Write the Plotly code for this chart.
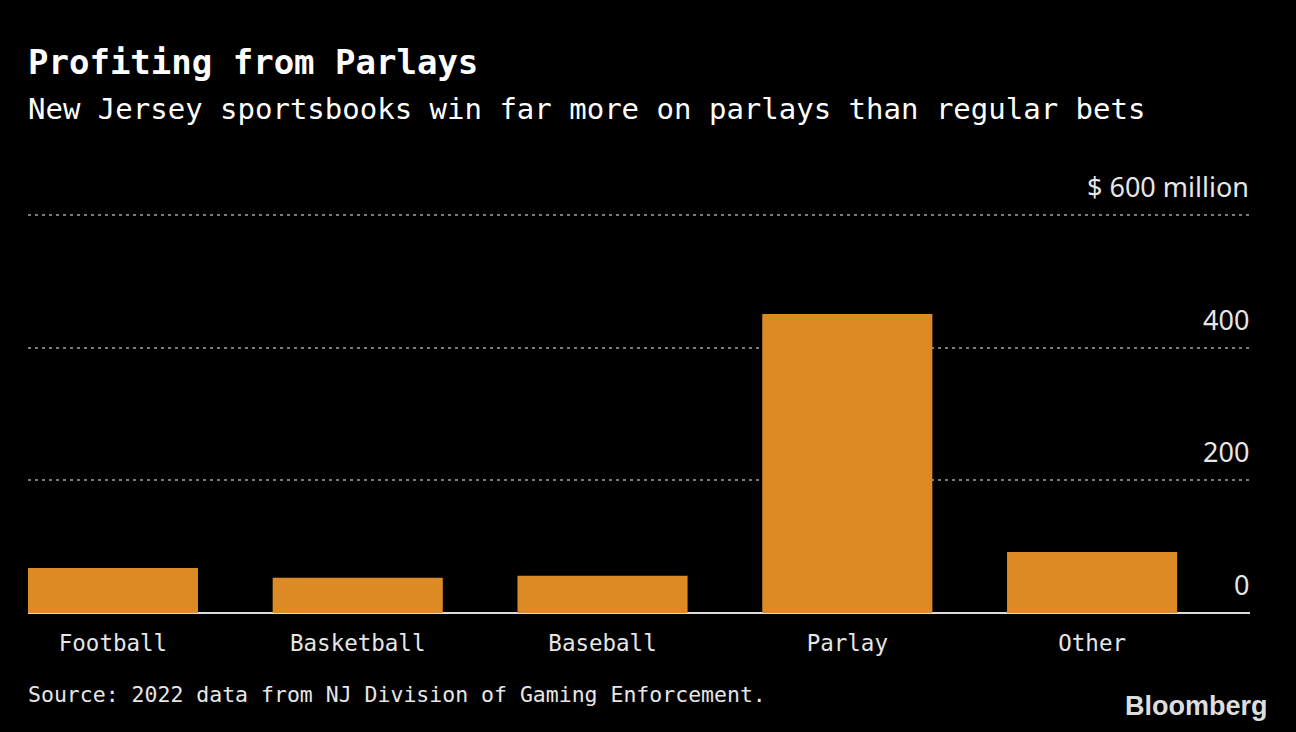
import plotly.graph_objects as go

categories = ["Football", "Basketball", "Baseball", "Parlay", "Other"]
winnings = [68, 53, 56, 451, 92]  # $ million
tick_vals = [0, 200, 400, 600]
tick_text = ["0", "200", "400", "$ 600 million"]

title = "Profiting from Parlays"
subtitle = "New Jersey sportsbooks win far more on parlays than regular bets"
source = "Source: 2022 data from NJ Division of Gaming Enforcement."

BG = "#000000"
BAR = "#DC8A26"
TXT = "#E6E6E6"
MONO = "DejaVu Sans Mono"

fig = go.Figure(
    go.Bar(
        x=categories,
        y=winnings,
        marker=dict(color=BAR, line=dict(width=0)),
        width=0.695,
        hoverinfo="skip",
    )
)

W, H = 1296, 732
YMAX = 680
ml, mr, mb = 28, 46, 119
unit = (613 - 215) / 600.0
mt = int(round(613 - YMAX * unit))
ph = H - mt - mb


def py(px):
    return (H - mb - px) / ph


annotations = [
    dict(
        text="<b>" + title + "</b>",
        xref="paper", yref="paper", x=0, y=py(40),
        xanchor="left", yanchor="top", showarrow=False,
        xshift=-2,
        font=dict(family=MONO, size=34, color="#FFFFFF"),
    ),
    dict(
        text=subtitle,
        xref="paper", yref="paper", x=0, y=py(90),
        xanchor="left", yanchor="top", showarrow=False,
        xshift=-2,
        font=dict(family=MONO, size=29, color="#FFFFFF"),
    ),
    dict(
        text=source,
        xref="paper", yref="paper", x=0, y=py(694),
        xanchor="left", yanchor="middle", showarrow=False,
        xshift=-2,
        font=dict(family=MONO, size=21.5, color=TXT),
    ),
    dict(
        text="<b>Bloomberg</b>",
        xref="paper", yref="paper", x=1, y=py(706),
        xanchor="right", yanchor="middle", showarrow=False,
        xshift=20,
        font=dict(family="Liberation Sans", size=27, color="#DDDDDD"),
    ),
]

# y-axis value labels, right-aligned above each gridline
for v, t in zip(tick_vals, tick_text):
    annotations.append(
        dict(
            text=t,
            xref="paper", yref="y", x=1, y=v,
            xanchor="right", yanchor="bottom", showarrow=False,
            xshift=1, yshift=8,
            font=dict(family="Noto Sans", size=27, color=TXT),
        )
    )

fig.update_layout(
    width=W,
    height=H,
    margin=dict(l=ml, r=mr, t=mt, b=mb),
    paper_bgcolor=BG,
    plot_bgcolor=BG,
    showlegend=False,
    xaxis=dict(
        range=[-0.347, 4.645],
        showgrid=False,
        showline=False,
        zeroline=False,
        ticks="outside",
        ticklen=10,
        tickcolor="rgba(0,0,0,0)",
        tickfont=dict(family=MONO, size=22.5, color=TXT),
        fixedrange=True,
    ),
    yaxis=dict(
        range=[0, YMAX],
        side="right",
        tickvals=tick_vals,
        showticklabels=False,
        ticks="",
        showgrid=True,
        gridcolor="#7a7a7a",
        gridwidth=1.5,
        griddash="3px,4px",
        zeroline=True,
        zerolinecolor="#DDDDDD",
        zerolinewidth=2,
        showline=False,
        fixedrange=True,
    ),
    annotations=annotations,
)

fig.write_html(
    "out.html",
    config={"displayModeBar": False},
    post_script="document.body.style.margin='0';document.body.style.background='#000';",
)
